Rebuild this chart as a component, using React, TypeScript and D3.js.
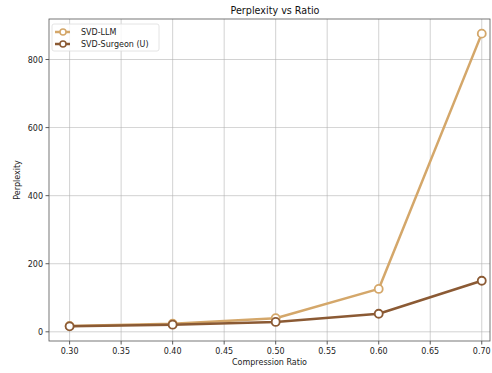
import React from 'react';
import * as d3 from 'd3';

const ratios = [0.3, 0.4, 0.5, 0.6, 0.7];
const svdLlm = [17, 24, 40, 126, 876];
const svdSurgeon = [16, 21, 29, 53, 150];
const xTicks = [0.3, 0.35, 0.4, 0.45, 0.5, 0.55, 0.6, 0.65, 0.7];
const yTicks = [0, 200, 400, 600, 800];

const W = 492;
const H = 373;
const margin = { top: 19, right: 2, bottom: 32, left: 49 };

const series = [
  { name: 'SVD-LLM', values: svdLlm, color: '#d4a76a' },
  { name: 'SVD-Surgeon (U)', values: svdSurgeon, color: '#8b5a34' },
];

export default function App() {
  const iw = W - margin.left - margin.right;
  const ih = H - margin.top - margin.bottom;
  // the right edge of the reference is cropped just past 0.70
  const x = d3.scaleLinear().domain([0.28, 0.708]).range([0, iw]);
  const y = d3.scaleLinear().domain([-27, 919]).range([ih, 0]);
  const line = d3.line<number>().x((_, i) => x(ratios[i])).y(d => y(d));
  const font = 'DejaVu Sans, sans-serif';

  return (
    <svg width={W} height={H} style={{ position: 'absolute', left: 0, top: 0 }} fontFamily={font}>
      <rect width={W} height={H} fill="#fff" />
      <text x={275} y={14} textAnchor="middle" fontSize={9.6} fill="#111">
        Perplexity vs Ratio
      </text>
      <g transform={`translate(${margin.left},${margin.top})`}>
        {xTicks.map(t => (
          <g key={'x' + t}>
            <line x1={x(t)} x2={x(t)} y1={0} y2={ih} stroke="#b0b0b0" strokeWidth={0.8} opacity={0.7} />
            <line x1={x(t)} x2={x(t)} y1={ih} y2={ih + 3.5} stroke="#333" strokeWidth={0.8} />
            <text x={x(t)} y={ih + 13} textAnchor="middle" fontSize={8} fill="#222">
              {t.toFixed(2)}
            </text>
          </g>
        ))}
        {yTicks.map(t => (
          <g key={'y' + t}>
            <line x1={0} x2={iw} y1={y(t)} y2={y(t)} stroke="#b0b0b0" strokeWidth={0.8} opacity={0.7} />
            <line x1={-3.5} x2={0} y1={y(t)} y2={y(t)} stroke="#333" strokeWidth={0.8} />
            <text x={-6} y={y(t) + 3} textAnchor="end" fontSize={8} fill="#222">
              {t}
            </text>
          </g>
        ))}
        {series.map(s => (
          <g key={s.name}>
            <path d={line(s.values) || ''} fill="none" stroke={s.color} strokeWidth={2.5} strokeLinejoin="round" />
            {s.values.map((v, i) => (
              <circle key={i} cx={x(ratios[i])} cy={y(v)} r={4} fill="#fff" stroke={s.color} strokeWidth={1.8} />
            ))}
          </g>
        ))}
        <rect x={0} y={0} width={iw} height={ih} fill="none" stroke="#555" strokeWidth={0.8} />
        <g transform="translate(3,5)">
          <rect x={0} y={0} width={107} height={27} fill="#fff" fillOpacity={0.8} stroke="#ddd" strokeWidth={0.8} rx={2} />
          {series.map((s, i) => (
            <g key={s.name} transform={`translate(0,${8 + i * 12})`}>
              <line x1={3} x2={18} y1={0} y2={0} stroke={s.color} strokeWidth={2.5} />
              <circle cx={11} cy={0} r={3} fill="#fff" stroke={s.color} strokeWidth={1.5} />
              <text x={29} y={3} fontSize={8} fill="#222">{s.name}</text>
            </g>
          ))}
        </g>
      </g>
      <text x={margin.left + iw / 2} y={H - 8} textAnchor="middle" fontSize={8} fill="#222">
        Compression Ratio
      </text>
      <text transform={`translate(20,${margin.top + ih / 2}) rotate(-90)`} textAnchor="middle" fontSize={8} fill="#222">
        Perplexity
      </text>
    </svg>
  );
}
